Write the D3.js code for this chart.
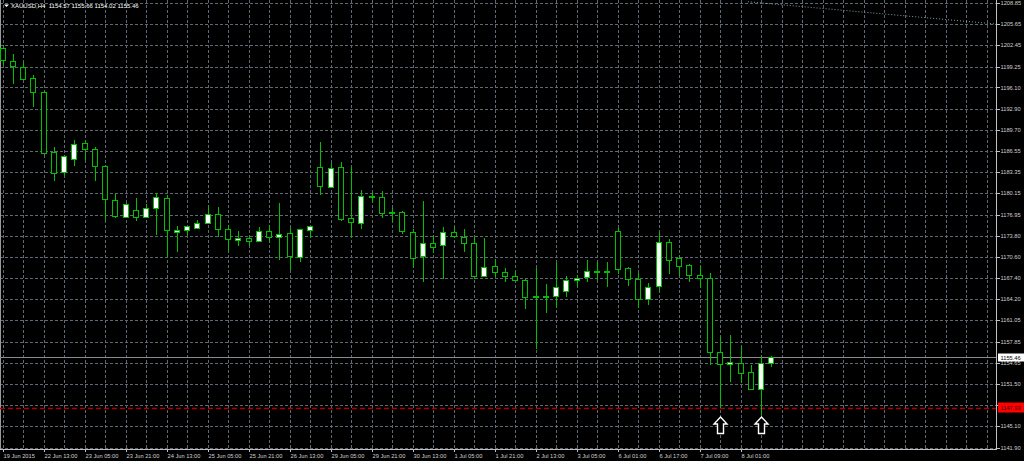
<!DOCTYPE html>
<html><head><meta charset="utf-8">
<script src="https://cdn.jsdelivr.net/npm/d3@7"></script>
<style>html,body{margin:0;padding:0;background:#000;overflow:hidden}</style>
</head><body><svg id="c" width="1024" height="461"></svg>
<script>
// ---------------- DATA ----------------
const symbol = "XAUUSD,H4";
const open = [1201.99,1200.04,1199.22,1197.48,1195.46,1186.43,1183.33,1185.29,1187.70,1186.79,
1184.28,1179.12,1176.50,1177.70,1176.61,1177.86,1179.42,1174.35,1174.54,1174.95,
1175.66,1177.06,1174.75,1173.14,1173.40,1172.95,1174.50,1173.64,1174.15,1170.48,
1174.69,1184.09,1181.17,1184.18,1176.41,1175.81,1179.62,1179.62,1177.25,1177.31,
1174.30,1170.63,1172.65,1172.35,1174.30,1173.55,1172.65,1167.73,1169.23,1168.28,
1167.68,1167.13,1164.61,1164.76,1164.76,1165.47,1167.17,1167.47,1168.37,1168.43,
1174.45,1168.89,1167.28,1164.22,1166.12,1172.89,1170.39,1169.34,1167.83,1167.38,
1156.33,1154.59,1154.68,1153.23,1150.68,1154.57];
const high = [1202.49,1201.09,1199.89,1197.98,1195.61,1187.10,1185.94,1188.19,1188.19,1187.10,
1184.40,1180.07,1178.67,1179.42,1178.52,1180.17,1179.92,1175.25,1175.30,1176.11,
1178.31,1178.07,1175.40,1174.54,1173.75,1175.15,1175.40,1178.67,1174.91,1174.85,
1175.30,1187.94,1184.78,1184.93,1184.18,1180.67,1180.41,1180.52,1177.92,1177.51,
1174.75,1179.06,1173.75,1175.06,1175.06,1174.75,1173.60,1173.40,1170.24,1168.89,
1168.52,1167.20,1168.89,1166.52,1169.64,1167.73,1167.88,1170.14,1169.88,1169.79,
1174.91,1169.13,1168.13,1166.63,1174.39,1173.30,1170.89,1169.50,1169.19,1168.13,
1158.59,1158.85,1157.09,1154.33,1155.84,1155.66];
const low = [1199.48,1196.58,1197.33,1193.11,1185.94,1182.07,1182.93,1184.28,1185.18,1182.07,
1176.15,1176.50,1176.41,1176.00,1176.55,1173.90,1170.54,1171.38,1173.90,1174.75,
1175.55,1173.64,1171.49,1172.24,1172.39,1172.89,1172.65,1170.14,1168.63,1169.79,
1173.40,1179.92,1181.08,1176.05,1173.55,1174.75,1178.67,1176.41,1175.90,1174.05,
1168.89,1166.82,1171.14,1167.28,1173.40,1171.38,1167.28,1167.60,1167.53,1166.87,
1167.05,1162.76,1156.74,1162.11,1163.11,1164.61,1166.03,1166.78,1167.13,1166.03,
1168.03,1166.22,1162.87,1163.36,1165.36,1168.03,1167.73,1166.87,1165.88,1154.33,
1147.93,1151.82,1151.58,1150.60,1146.81,1154.02];
const close = [1200.23,1199.28,1197.48,1195.37,1186.34,1183.33,1185.79,1187.55,1186.79,1184.18,
1179.31,1176.65,1178.52,1176.65,1177.92,1179.57,1174.54,1174.65,1175.21,1175.70,
1177.06,1174.75,1173.25,1173.40,1172.95,1174.50,1173.60,1174.09,1170.63,1174.75,
1175.25,1181.17,1184.03,1176.31,1175.81,1179.81,1179.77,1177.25,1177.35,1174.39,
1170.39,1172.65,1172.05,1174.30,1173.64,1172.65,1167.73,1169.08,1168.37,1167.73,
1167.13,1164.61,1164.76,1164.61,1166.12,1167.13,1167.47,1168.43,1168.43,1168.52,
1168.78,1167.23,1164.22,1166.03,1172.80,1170.14,1169.13,1167.88,1167.35,1156.24,
1154.59,1154.83,1153.17,1150.68,1154.57,1155.46];
const timeLabels = ["19 Jun 2015","22 Jun 13:00","23 Jun 05:00","23 Jun 21:00","24 Jun 13:00",
"25 Jun 05:00","25 Jun 21:00","26 Jun 13:00","29 Jun 05:00","29 Jun 21:00","30 Jun 13:00",
"1 Jul 05:00","1 Jul 21:00","2 Jul 13:00","3 Jul 05:00","6 Jul 01:00","6 Jul 17:00",
"7 Jul 09:00","8 Jul 01:00"];
const labelBars = [0,4,8,12,16,20,24,28,32,36,40,44,48,52,56,60,64,68,72];
const priceTicks = [1208.85,1205.65,1202.45,1199.25,1196.10,1192.90,1189.70,1186.55,1183.35,
1180.15,1176.95,1173.80,1170.60,1167.40,1164.20,1161.05,1157.85,1154.65,1151.50,1148.30,
1145.10,1141.90];
const bidPrice = 1155.46;
const levelPrice = 1147.93;
const arrowBars = [70, 74];
const arrowPrice = 1146.5;
const trendBars = [72.7, 96.9];
const trendPrices = [1209.0, 1205.65];
const totalBars = 97; // visible bar slots including the right shift

// ---------------- LAYOUT ----------------
const svg = d3.select("#c");
const W = 1024, H = 461;
const axisX = 996, axisY = 449;
const x = d3.scaleLinear().domain([0, 96]).range([2.7, 2.7 + 10.25 * 96]);
const y = d3.scaleLinear().domain([1141.90, 1208.85]).range([447.6, 2.74]);
const green = "#00c000";
const gridColor = "#5e6872";
const textColor = "#d0d0d0";
const font = "'Liberation Sans', Arial, sans-serif";

svg.append("rect").attr("width", W).attr("height", H).attr("fill", "#000");

const clip = svg.append("defs").append("clipPath").attr("id", "plot")
  .append("rect").attr("x", 0).attr("y", 0).attr("width", axisX).attr("height", axisY);

// grid
const grid = svg.append("g").attr("shape-rendering", "crispEdges");
grid.selectAll("line.h").data(priceTicks).enter().append("line")
  .attr("x1", 0).attr("x2", axisX)
  .attr("y1", d => Math.round(y(d)) + 0.5).attr("y2", d => Math.round(y(d)) + 0.5)
  .attr("stroke", gridColor).attr("stroke-dasharray", "3,2");
const vBars = d3.range(0, totalBars, 2);
grid.selectAll("line.v").data(vBars).enter().append("line")
  .attr("y1", 0).attr("y2", axisY)
  .attr("x1", d => Math.round(x(d)) + 0.5).attr("x2", d => Math.round(x(d)) + 0.5)
  .attr("stroke", gridColor).attr("stroke-dasharray", "3,2");

// left border
svg.append("line").attr("x1", 0.5).attr("x2", 0.5).attr("y1", 0).attr("y2", axisY)
  .attr("stroke", "#9a9a9a");

const plot = svg.append("g").attr("clip-path", "url(#plot)");

// trend line
plot.append("line")
  .attr("x1", x(trendBars[0])).attr("y1", y(trendPrices[0]))
  .attr("x2", x(trendBars[1])).attr("y2", y(trendPrices[1]))
  .attr("stroke", "#7fa3a3").attr("stroke-width", 1).attr("stroke-dasharray", "1,2");

// bid line
plot.append("line").attr("x1", 0).attr("x2", axisX)
  .attr("y1", Math.round(y(bidPrice)) + 0.5).attr("y2", Math.round(y(bidPrice)) + 0.5)
  .attr("stroke", "#8a8a8a").attr("shape-rendering", "crispEdges");

// red level line
plot.append("line").attr("x1", 0).attr("x2", axisX)
  .attr("y1", Math.round(y(levelPrice)) + 0.5).attr("y2", Math.round(y(levelPrice)) + 0.5)
  .attr("stroke", "#b00000").attr("stroke-width", 1.3).attr("stroke-dasharray", "5,3");

// candles
const bars = d3.range(open.length).map(i => ({i, o: open[i], h: high[i], l: low[i], c: close[i]}));
const cg = plot.append("g").attr("shape-rendering", "crispEdges");
const candle = cg.selectAll("g.k").data(bars).enter().append("g");
candle.append("line")
  .attr("x1", d => Math.round(x(d.i)) + 0.5).attr("x2", d => Math.round(x(d.i)) + 0.5)
  .attr("y1", d => y(d.h)).attr("y2", d => y(d.l))
  .attr("stroke", green);
candle.append("rect")
  .attr("x", d => Math.round(x(d.i)) - 2.5)
  .attr("width", 5)
  .attr("y", d => Math.round(y(Math.max(d.o, d.c))) + 0.5)
  .attr("height", d => Math.max(1, Math.round(Math.abs(y(d.o) - y(d.c)))))
  .attr("fill", d => d.c >= d.o ? "#ffffff" : "#000000")
  .attr("stroke", green);

// arrows
const ag = plot.append("g");
arrowBars.forEach(b => {
  const cx = Math.round(x(b)) + 0.5, ty = y(arrowPrice);
  const p = d3.path();
  p.moveTo(cx, ty);
  p.lineTo(cx + 6.5, ty + 7);
  p.lineTo(cx + 3, ty + 7);
  p.lineTo(cx + 3, ty + 16.5);
  p.lineTo(cx - 3, ty + 16.5);
  p.lineTo(cx - 3, ty + 7);
  p.lineTo(cx - 6.5, ty + 7);
  p.closePath();
  ag.append("path").attr("d", p.toString()).attr("fill", "#000")
    .attr("stroke", "#ffffff").attr("stroke-width", 1.4).attr("stroke-linejoin", "miter");
});

// axes lines
svg.append("line").attr("x1", axisX + 0.5).attr("x2", axisX + 0.5).attr("y1", 0).attr("y2", axisY + 0.5)
  .attr("stroke", "#c0c0c0").attr("shape-rendering", "crispEdges");
svg.append("line").attr("x1", 0).attr("x2", axisX + 0.5).attr("y1", axisY + 0.5).attr("y2", axisY + 0.5)
  .attr("stroke", "#c0c0c0").attr("shape-rendering", "crispEdges");

// right axis ticks + labels
const ra = svg.append("g");
ra.selectAll("line").data(priceTicks).enter().append("line")
  .attr("x1", axisX).attr("x2", axisX + 4)
  .attr("y1", d => Math.round(y(d)) + 0.5).attr("y2", d => Math.round(y(d)) + 0.5)
  .attr("stroke", "#c0c0c0").attr("shape-rendering", "crispEdges");
ra.selectAll("text").data(priceTicks).enter().append("text")
  .attr("x", axisX + 4.5).attr("y", d => y(d)).attr("dy", "0.36em")
  .attr("fill", textColor).attr("font-family", font).attr("font-size", 5.7)
  .text(d => d.toFixed(2));

// bottom axis ticks + labels
const ba = svg.append("g");
ba.selectAll("line").data(labelBars).enter().append("line")
  .attr("x1", d => Math.round(x(d)) + 0.5).attr("x2", d => Math.round(x(d)) + 0.5)
  .attr("y1", axisY).attr("y2", axisY + 3)
  .attr("stroke", "#c0c0c0").attr("shape-rendering", "crispEdges");
ba.selectAll("text").data(labelBars).enter().append("text")
  .attr("x", d => Math.round(x(d)) + 0.5).attr("y", axisY + 8.8)
  .attr("fill", textColor).attr("font-family", font).attr("font-size", 5.7)
  .text((d, k) => timeLabels[k]);

// price boxes
function priceBox(price, bg, fg, h) {
  const cy = y(price);
  svg.append("rect").attr("x", axisX + 2).attr("y", cy - h / 2).attr("width", W - axisX - 2).attr("height", h)
    .attr("fill", bg);
  svg.append("text").attr("x", axisX + 4.5).attr("y", cy).attr("dy", "0.36em")
    .attr("fill", fg).attr("font-family", font).attr("font-size", 5.7).text(price.toFixed(2));
}
priceBox(bidPrice, "#ffffff", "#000000", 8);
priceBox(levelPrice, "#ff0000", "#3a0000", 10);

// title
const last = open.length - 1;
svg.append("path").attr("d", "M4,4.5 L9,4.5 L6.5,7 Z").attr("fill", "#ffffff");
svg.append("text").attr("x", 11).attr("y", 8.2)
  .attr("fill", "#ffffff").attr("font-family", font).attr("font-size", 6)
  .attr("xml:space", "preserve")
  .text(`${symbol}  ${open[last].toFixed(2)} ${high[last].toFixed(2)} ${low[last].toFixed(2)} ${close[last].toFixed(2)}`);
</script>
</body></html>
